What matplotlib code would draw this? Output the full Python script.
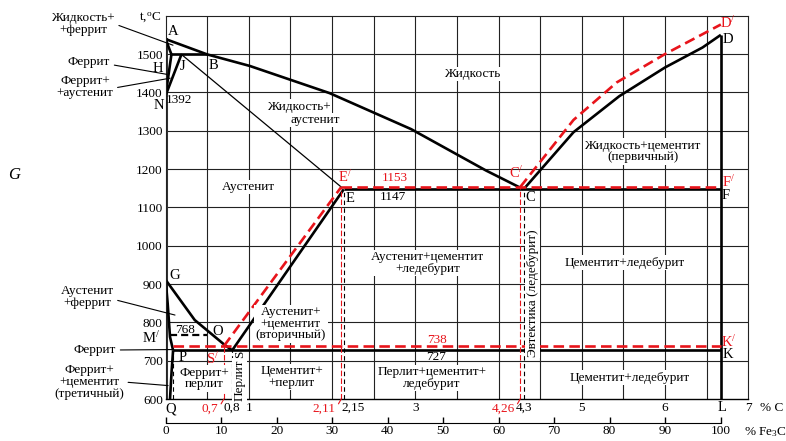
import numpy as np
import matplotlib
matplotlib.use("Agg")
import matplotlib.pyplot as plt
import matplotlib.transforms as mtransforms

plt.rcParams['font.family'] = 'Liberation Serif'
plt.rcParams['font.size'] = 9.5
plt.rcParams['mathtext.fontset'] = 'custom'
plt.rcParams['mathtext.rm'] = 'Liberation Serif'
plt.rcParams['mathtext.it'] = 'Liberation Serif:italic'

# --- data: %C, t (°C) ---
liq_abc_c = [0, 0.5, 1.01, 1.97, 2.95, 3.85, 4.3]
liq_abc_t = [1539, 1499, 1469, 1398, 1304, 1196, 1147]
liq_cd_c = [4.3, 4.9, 5.45, 6.0, 6.45, 6.67]
liq_cd_t = [1147, 1296, 1390, 1465, 1517, 1550]
liq_cd_red_c = [4.26, 4.9, 5.42, 6.0, 6.67]
liq_cd_red_t = [1153, 1328, 1426, 1500, 1577]

ah_c, ah_t = [0, 0.07], [1539, 1499]
hn_c, hn_t = [0.07, 0], [1499, 1392]
jn_c, jn_t = [0.19, 0], [1499, 1392]
hjb_c, hjb_t = [0.07, 0.5], [1499, 1499]
je_c, je_t = [0.19, 2.11], [1499, 1153]

gos_c = [0, 0.35, 0.71, 0.8]
gos_t = [911, 806, 741, 727]
gp_c = [0, 0.025, 0.053, 0.09]
gp_t = [911, 849, 762, 727]
pq_c = [0.09, 0.073, 0.053]
pq_t = [727, 675, 600]
es_c, es_t = [0.8, 2.14], [727, 1147]
es_red_c, es_red_t = [0.7, 2.11], [738, 1153]

t_ecf, c_ecf = 1147, [2.14, 6.67]
t_ecf_red, c_ecf_red = 1153, [2.11, 6.67]
t_psk, c_psk = 727, [0.09, 6.67]
t_psk_red, c_psk_red = 738, [0.09, 6.67]
t_curie, c_curie = 768, [0.05, 0.5]
c_fe3c = 6.67
t_d = 1550

black_drops = [(0.09, 727), (0.8, 727), (2.14, 1147), (4.3, 1147)]
red_drops = [(0.7, 738), (2.11, 1153), (4.26, 1153)]

c_ticks = [0.8, 1, 2.15, 3, 4.3, 5, 6, 7]
c_labels = ['0,8', '1', '2,15', '3', '4,3', '5', '6', '7']
red_ticks = [0.7, 2.11, 4.26]
red_labels = ['0,7', '2,11', '4,26']
t_ticks = [600, 700, 800, 900, 1000, 1100, 1200, 1300, 1400, 1500]
fe3c_ticks = [0, 10, 20, 30, 40, 50, 60, 70, 80, 90, 100]

W, H = 786, 441
fig = plt.figure(figsize=(W / 100, H / 100), dpi=100)
x0, x1, y0, y1 = 165.6, 748.3, 399, 15.7
ax = fig.add_axes([x0 / W, 1 - y0 / H, (x1 - x0) / W, (y0 - y1) / H])
ax.set_xlim(0, 7)
ax.set_ylim(600, 1600)

# grid: every 0.5 %C and 100 °C
ax.vlines(np.arange(0.5, 7, 0.5), 600, 1600, color='#222', lw=0.8, zorder=0.5)
ax.hlines(np.arange(700, 1600, 100), 0, 7, color='#222', lw=0.8, zorder=0.5)
for s in ax.spines.values():
    s.set_linewidth(0.8)
    s.set_color('#222')
ax.spines['bottom'].set_color('black')
ax.spines['bottom'].set_linewidth(1)

ax.set_yticks(t_ticks)
ax.tick_params(axis='y', length=0, pad=2)
ax.set_xticks(c_ticks)
ax.set_xticklabels(c_labels)
ax.tick_params(axis='x', length=0, pad=2)
for lab, c in zip(ax.get_xticklabels(), c_ticks):
    if c == 2.15:
        lab.set_transform(lab.get_transform() +
                          mtransforms.ScaledTranslation(8 / 100, 0, fig.dpi_scale_trans))

# Fe3C scale
sec = ax.secondary_xaxis(-23.7 / 383.3, functions=(lambda c: c * 15, lambda f: f / 15))
sec.set_xticks(fe3c_ticks)
sec.tick_params(direction='in', length=4, width=1, pad=2)
sec.spines['bottom'].set_bounds(0, 100)

K = dict(color='black', lw=1.9, solid_capstyle='butt', solid_joinstyle='miter')
R = dict(color='#e8141b', lw=1.9, dashes=(4, 2))

ax.plot([0, 0], [600, 1539], color='#333', lw=2.2)
ax.plot(liq_abc_c, liq_abc_t, **K)
ax.plot(liq_cd_c, liq_cd_t, **K)
ax.plot(ah_c, ah_t, **K)
ax.plot(hn_c, hn_t, **K)
ax.plot(jn_c, jn_t, **K)
ax.plot(hjb_c, hjb_t, **K)
ax.plot(je_c, je_t, color='black', lw=0.9)
ax.plot(gos_c, gos_t, **K)
ax.plot(gp_c, gp_t, **K)
ax.plot(pq_c, pq_t, **K)
ax.plot(es_c, es_t, **K)
ax.plot(c_ecf, [t_ecf] * 2, **K)
ax.plot(c_psk, [t_psk] * 2, **K)
ax.plot([c_fe3c, c_fe3c], [600, t_d], **K)
ax.plot(c_curie, [t_curie] * 2, color='black', lw=1.6, dashes=(3.2, 1.8))

for c, t in black_drops:
    ax.plot([c, c], [600, t], color='black', lw=0.8, dashes=(4, 3))
for c, t in red_drops:
    ax.plot([c, c], [600, t], color='#e8141b', lw=0.8, dashes=(5, 2))

ax.plot(liq_cd_red_c, liq_cd_red_t, **R)
ax.plot(es_red_c, es_red_t, **R)
ax.plot(c_ecf_red, [t_ecf_red] * 2, **R)
ax.plot(c_psk_red, [t_psk_red] * 2, **R)

# red composition labels with leaders
for c, s in zip(red_ticks, red_labels):
    ax.annotate(s, xy=(c, 600), xytext=(-4, -7), textcoords='offset points',
                ha='right', va='center', color='#e8141b', annotation_clip=False,
                arrowprops=dict(arrowstyle='-', color='#e8141b', lw=0.8,
                                shrinkA=0, shrinkB=0, relpos=(1, 0.5)))

box = dict(facecolor='white', edgecolor='none', pad=1)
regions = [
    ('Жидкость', 3.68, 1448, 0),
    ('Жидкость+', 1.60, 1362, 0),
    ('аустенит', 1.80, 1328, 0),
    ('Жидкость+цементит\n(первичный)', 5.73, 1246, 0),
    ('Аустенит', 0.99, 1153, 0),
    ('Аустенит+цементит\n+ледебурит', 3.15, 955, 0),
    ('Цементит+ледебурит', 5.51, 955, 0),
    ('Цементит+ледебурит', 5.57, 655, 0),
    ('Перлит+цементит+\nледебурит', 3.2, 655, 0),
    ('Аустенит+\n+цементит\n(вторичный)', 1.505, 796, 0),
    ('Цементит+\n+перлит', 1.517, 657, 0),
    ('Феррит+\nперлит', 0.46, 653, 0),
    ('Эвтектика (ледебурит)', 4.41, 877, 90),
    ('Перлит', 0.89, 650, 90),
]
for s, c, t, rot in regions:
    ax.text(c, t, s, ha='center', va='center', rotation=rot,
            linespacing=0.95, bbox=box)
ax.text(0.89, 717, 'S', ha='center', va='center', rotation=90)

points = [
    ('A', 0.085, 1558, 'k'), ('H', -0.09, 1462, 'k'), ('J', 0.205, 1467, 'k'),
    ('B', 0.57, 1471, 'k'), ('N', -0.08, 1367, 'k'), ('G', 0.11, 923, 'k'),
    ('M$^{/}$', -0.17, 759, 'k'), ('O', 0.63, 776, 'k'), ('P', 0.21, 707, 'k'),
    ('S$^{/}$', 0.57, 704, 'r'), ('Q', 0.06, 574, 'k'), ('L', 6.69, 577, 'k'),
    ('E$^{/}$', 2.15, 1180, 'r'), ('E', 2.21, 1124, 'k'),
    ('C$^{/}$', 4.21, 1190, 'r'), ('C', 4.38, 1127, 'k'),
    ('F$^{/}$', 6.76, 1167, 'r'), ('F', 6.73, 1132, 'k'),
    ('K$^{/}$', 6.77, 749, 'r'), ('K', 6.76, 715, 'k'),
    ('D$^{/}$', 6.75, 1580, 'r'), ('D', 6.76, 1538, 'k'),
    ('1153', 2.75, 1177, 'r'), ('1147', 2.73, 1127, 'k'),
    ('738', 3.256, 754, 'r'), ('727', 3.244, 710, 'k'),
    ('768', 0.233, 780, 'k'), ('1392', 0.16, 1380, 'k'),
]
for s, c, t, col in points:
    ax.text(c, t, s, ha='center', va='center', fontsize=10.5 if len(s) < 3 or '$' in s else 9.5,
            color='#e8141b' if col == 'r' else 'black', clip_on=False)

# left side annotations
notes = [
    ('Жидкость+\n+феррит', (83, 24), (0.089, 1523), (1, 0.5)),
    ('Феррит', (89, 62), (0.015, 1447), (1, 0.3)),
    ('Феррит+\n+аустенит', (85, 87), (0.055, 1437), (1, 0.45)),
    ('Аустенит\n+феррит', (87, 297), (0.113, 819), (1, 0.4)),
    ('Феррит', (95, 350), (0.09, 729), (1, 0.5)),
    ('Феррит+\n+цементит\n(третичный)', (89, 382), (0.03, 635), (1, 0.5)),
]
for s, (px, py), xy, rp in notes:
    ax.annotate(s, xy=xy, xytext=(px, H - py), textcoords='figure pixels',
                ha='center', va='center', linespacing=0.95, annotation_clip=False,
                arrowprops=dict(arrowstyle='-', color='black', lw=0.8,
                                shrinkA=1, shrinkB=0, relpos=rp))

fig.text(150 / W, 1 - 17 / H, 't,$^{\\mathrm{o}}$C', ha='center', va='center')
fig.text(14 / W, 1 - 175 / H, 'G', ha='center', va='center', fontsize=12, style='italic')
fig.text(760 / W, 1 - 408 / H, '% C', ha='left', va='center')
fig.text(744 / W, 1 - 432 / H, '% Fe$_3$C', ha='left', va='center')

fig.savefig('out.png', dpi=100)
